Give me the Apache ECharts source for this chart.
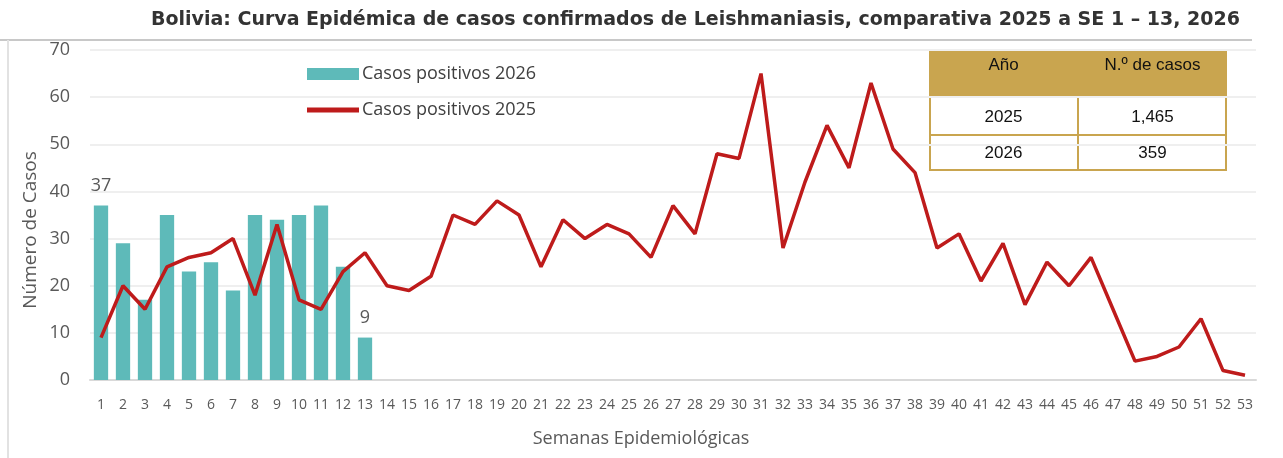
<!DOCTYPE html>
<html><head><meta charset="utf-8">
<script src="https://cdn.jsdelivr.net/npm/echarts@6/dist/echarts.min.js"></script>
<style>html,body{margin:0;padding:0;background:#fff}#c{width:1283px;height:458px}</style>
</head><body><div id="c"></div>
<script>
const weeks = Array.from({length:53},(_,i)=>String(i+1));
const cases2026 = [37,29,17,35,23,25,19,35,34,35,37,24,9];
const cases2025 = [9,20,15,24,26,27,30,18,33,17,15,23,27,20,19,22,35,33,38,35,24,34,30,33,31,26,37,31,48,47,65,28,42,54,45,63,49,44,28,31,21,29,16,25,20,26,15,4,5,7,13,2,1];
const yTicks = [0,10,20,30,40,50,60,70];
const tableHeader = ['Año','N.º de casos'];
const tableRows = [['2025','1,465'],['2026','359']];
const labeledBars = [0,12];

const chart = echarts.init(document.getElementById('c'));
const gold = '#C9A54F';
const tx = 929, tw = 298, colX = 1078;
const rowsY = [51,97,135,170];
const tfont = '17px "Liberation Sans", Arial, sans-serif';
const tbl = [];
tbl.push({type:'rect',shape:{x:tx,y:rowsY[0],width:tw,height:rowsY[1]-rowsY[0]},style:{fill:gold}});
tbl.push({type:'rect',shape:{x:tx+1,y:rowsY[1],width:tw-2,height:rowsY[3]-rowsY[1]},style:{fill:'#fff',stroke:gold,lineWidth:2}});
tbl.push({type:'line',shape:{x1:tx,y1:rowsY[2],x2:tx+tw,y2:rowsY[2]},style:{stroke:gold,lineWidth:2}});
tbl.push({type:'line',shape:{x1:colX,y1:rowsY[1],x2:colX,y2:rowsY[3]},style:{stroke:gold,lineWidth:2}});
const c1 = (tx+colX)/2, c2 = (colX+tx+tw)/2;
tbl.push({type:'text',x:c1,y:65,style:{text:tableHeader[0],font:tfont,fill:'#111',textAlign:'center',textVerticalAlign:'middle'}});
tbl.push({type:'text',x:c2,y:65,style:{text:tableHeader[1],font:tfont,fill:'#111',textAlign:'center',textVerticalAlign:'middle'}});
tableRows.forEach((r,i)=>{
  const cy = i===0 ? 117 : 153;
  tbl.push({type:'text',x:c1,y:cy,style:{text:r[0],font:tfont,fill:'#111',textAlign:'center',textVerticalAlign:'middle'}});
  tbl.push({type:'text',x:c2,y:cy,style:{text:r[1],font:tfont,fill:'#111',textAlign:'center',textVerticalAlign:'middle'}});
});

chart.setOption({
  animation:false,
  backgroundColor:'#fff',
  title:{text:'Bolivia: Curva Epidémica de casos confirmados de Leishmaniasis, comparativa 2025 a SE 1 – 13, 2026',
    right:38, top:6, textStyle:{fontFamily:'DejaVu Sans',fontWeight:'bold',fontSize:19,color:'#333'}},
  legend:{orient:'vertical',left:302,top:60,itemWidth:52,itemHeight:12,itemGap:18,
    textStyle:{fontFamily:'Open Sans',fontSize:18,color:'#404040',padding:[0,0,0,-2]},
    data:[{name:'Casos positivos 2026',icon:'rect'},{name:'Casos positivos 2025',icon:'path://M0,0H10V1H0Z'}]},
  grid:{left:90,right:27,top:50,bottom:78},
  xAxis:{type:'category',data:weeks,boundaryGap:true,
    name:'Semanas Epidemiológicas',nameLocation:'middle',nameGap:50,
    nameTextStyle:{fontFamily:'Open Sans',fontSize:18,color:'#595959',padding:[0,64,0,0]},
    axisLine:{lineStyle:{color:'#D9D9D9',width:2}},axisTick:{show:false},
    axisLabel:{interval:0,fontFamily:'Open Sans',fontSize:14,color:'#595959',margin:18}},
  yAxis:{type:'value',min:0,max:70,interval:10,
    axisLabel:{fontFamily:'Open Sans',fontSize:18,color:'#595959',margin:20,
      formatter:v=>yTicks.includes(v)?String(v):''},
    splitLine:{lineStyle:{color:'#EFEFEF',width:2}},axisLine:{show:false},axisTick:{show:false}},
  series:[
    {name:'Casos positivos 2026',type:'bar',barWidth:'65%',itemStyle:{color:'#5EBAB9'},
     data:cases2026.map((v,i)=>({value:v,label:{show:labeledBars.includes(i)}})),
     label:{position:'top',distance:11,fontFamily:'Open Sans',fontSize:18,color:'#595959'}},
    {name:'Casos positivos 2025',type:'line',data:cases2025,symbol:'none',
     lineStyle:{color:'#BE1B1B',width:3.5},itemStyle:{color:'#BE1B1B'},z:3}
  ],
  graphic:[
    {type:'line',shape:{x1:0,y1:40,x2:1252,y2:40},style:{stroke:'#C8C8C8',lineWidth:2},z:-1},
    {type:'line',shape:{x1:8,y1:40,x2:8,y2:458},style:{stroke:'#E2E2E2',lineWidth:2},z:-1},
    {type:'text',x:31,y:230,rotation:Math.PI/2,style:{text:'Número de Casos',font:'19px "Open Sans", sans-serif',fill:'#595959',textAlign:'center',textVerticalAlign:'middle'}},
    ...tbl
  ]
});
</script></body></html>
